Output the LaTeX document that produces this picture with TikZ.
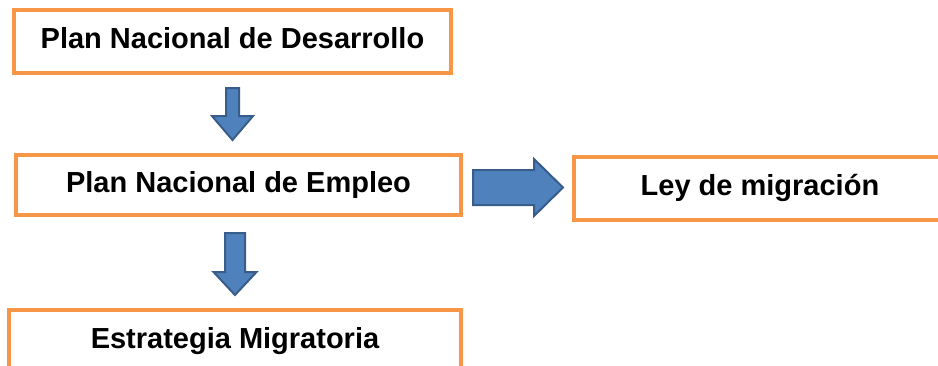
\documentclass[tikz,border=0pt]{standalone}
\usepackage{fontspec}
\setmainfont{Liberation Sans}
\usetikzlibrary{calc}
\definecolor{boxorange}{HTML}{F79646}
\definecolor{arrowblue}{HTML}{4F81BD}
\definecolor{arrowedge}{HTML}{385D8A}

% block arrow: shaft half width, head half width, head length, from, to
\newcommand{\blockarrow}[5]{%
  \coordinate (bah) at ($(#5)!#3!(#4)$);
  \draw[fatarrow] ($(#4)!#1!90:(#5)$) -- ($(bah)!#1!90:(#5)$) -- ($(bah)!#2!90:(#5)$) -- (#5)
    -- ($(bah)!#2!-90:(#5)$) -- ($(bah)!#1!-90:(#5)$) -- ($(#4)!#1!-90:(#5)$) -- cycle;}

\begin{document}
\begin{tikzpicture}[x=1pt,y=-1pt,
  planbox/.style={draw=boxorange,line width=4pt,fill=white,inner sep=0pt,
    font=\bfseries\fontsize{29}{35}\selectfont,text height=21pt,text depth=7pt},
  fatarrow/.style={draw=arrowedge,fill=arrowblue,line width=2pt,line join=miter}]
\useasboundingbox (0,0) rectangle (938,365);

% boxes
\node[planbox,minimum width=437pt,minimum height=63pt] (desarrollo) at (232.5,41.5) {Plan Nacional de Desarrollo};
\node[planbox,minimum width=445pt,minimum height=60pt] (empleo) at (238.5,185) {Plan Nacional de Empleo};
\node[planbox,minimum width=372pt,minimum height=63pt] (ley) at (760,188.5) {Ley de migración};
\node[planbox,minimum width=452pt,minimum height=63pt] (estrategia) at (235,341.5) {Estrategia Migratoria};

% arrows
\coordinate (d1) at ($(desarrollo.south)+(0,13)$);
\coordinate (d2) at ($(empleo.north -| desarrollo.south)+(0,-13)$);
\blockarrow{6.5pt}{20.5pt}{24pt}{d1}{d2}

\coordinate (r1) at ($(empleo.east |- ley.west)+(10,-1)$);
\coordinate (r2) at ($(ley.west)+(-9,-1)$);
\blockarrow{17.5pt}{28.5pt}{29pt}{r1}{r2}

\coordinate (e1) at ($(empleo.south -| estrategia.north)+(0,16)$);
\coordinate (e2) at ($(estrategia.north)+(0,-13)$);
\blockarrow{10pt}{21.5pt}{23pt}{e1}{e2}
\end{tikzpicture}
\end{document}
